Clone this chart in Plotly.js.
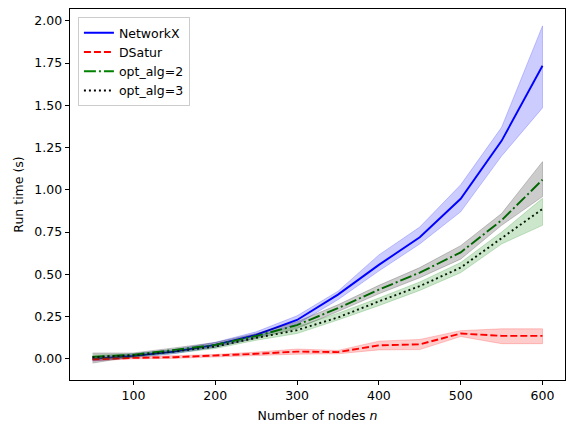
<!DOCTYPE html>
<html>
<head>
<meta charset="utf-8">
<script src="https://cdn.plot.ly/plotly-3.0.1.min.js"></script>
<style>
  html, body { margin: 0; padding: 0; background: #ffffff; }
  #chart { width: 576px; height: 433px; }
</style>
</head>
<body>
<div id="chart"></div>
<script>
// Graph sizes (number of nodes)
const nodes = [50, 100, 150, 200, 250, 300, 350, 400, 450, 500, 550, 600];

// Mean run times (s) and spread bands for each colouring method
const networkxMean  = [0.000, 0.018, 0.043, 0.083, 0.142, 0.230, 0.380, 0.556, 0.720, 0.947, 1.290, 1.734];
const networkxUpper = [0.012, 0.030, 0.055, 0.098, 0.160, 0.255, 0.400, 0.615, 0.780, 1.030, 1.370, 1.970];
const networkxLower = [-0.012, 0.006, 0.031, 0.068, 0.124, 0.205, 0.350, 0.520, 0.680, 0.870, 1.200, 1.485];

const dsaturMean  = [-0.003, 0.006, 0.010, 0.018, 0.030, 0.043, 0.040, 0.080, 0.086, 0.150, 0.136, 0.136];
const dsaturUpper = [0.005, 0.012, 0.017, 0.026, 0.040, 0.058, 0.050, 0.105, 0.115, 0.167, 0.178, 0.178];
const dsaturLower = [-0.012, 0.000, 0.003, 0.010, 0.020, 0.028, 0.030, 0.053, 0.055, 0.132, 0.090, 0.090];

const opt2Mean  = [0.012, 0.024, 0.053, 0.083, 0.135, 0.200, 0.300, 0.410, 0.510, 0.630, 0.820, 1.060];
const opt2Upper = [0.035, 0.035, 0.065, 0.097, 0.150, 0.220, 0.320, 0.435, 0.540, 0.670, 0.860, 1.167];
const opt2Lower = [-0.025, 0.013, 0.041, 0.069, 0.120, 0.180, 0.280, 0.385, 0.480, 0.590, 0.790, 0.960];

const opt3Mean  = [0.010, 0.020, 0.043, 0.073, 0.124, 0.170, 0.245, 0.340, 0.430, 0.540, 0.714, 0.887];
const opt3Upper = [0.022, 0.030, 0.053, 0.085, 0.138, 0.190, 0.270, 0.360, 0.455, 0.570, 0.750, 0.950];
const opt3Lower = [-0.002, 0.010, 0.033, 0.061, 0.110, 0.150, 0.230, 0.315, 0.405, 0.510, 0.680, 0.790];

const xTicks = [100, 200, 300, 400, 500, 600];
const yTicks = [0, 0.25, 0.5, 0.75, 1.0, 1.25, 1.5, 1.75, 2.0];

// Closed polygon for a shaded band between lower and upper curves
function band(lower, upper, rgba) {
  return {
    x: nodes.concat(nodes.slice().reverse()),
    y: upper.concat(lower.slice().reverse()),
    type: 'scatter', mode: 'lines', fill: 'toself',
    fillcolor: rgba, line: { color: rgba, width: 1 },
    hoverinfo: 'skip', showlegend: false
  };
}

function line(name, y, color, dash) {
  return {
    x: nodes, y: y, name: name, type: 'scatter', mode: 'lines',
    line: { color: color, width: 1.9, dash: dash }
  };
}

const traces = [
  line('NetworkX', networkxMean, '#0000ff', 'solid'),
  band(networkxLower, networkxUpper, 'rgba(0,0,255,0.2)'),
  line('DSatur', dsaturMean, '#ff0000', '7px,3px'),
  band(dsaturLower, dsaturUpper, 'rgba(255,0,0,0.2)'),
  line('opt_alg=2', opt2Mean, '#008000', '12px,3px,2px,3px'),
  band(opt2Lower, opt2Upper, 'rgba(0,0,0,0.2)'),
  line('opt_alg=3', opt3Mean, '#000000', '2px,3px'),
  band(opt3Lower, opt3Upper, 'rgba(0,128,0,0.2)')
];

const axisCommon = {
  showgrid: false, zeroline: false,
  showline: true, mirror: true, linecolor: '#000000', linewidth: 1,
  ticks: 'outside', ticklen: 4.4, tickwidth: 1, tickcolor: '#000000',
  tickfont: { family: 'DejaVu Sans', size: 12.5, color: '#000000' }
};

const layout = {
  width: 576, height: 433,
  margin: { l: 70, r: 11, t: 9, b: 53 },
  paper_bgcolor: '#ffffff', plot_bgcolor: '#ffffff',
  font: { family: 'DejaVu Sans', size: 12.5, color: '#000000' },
  xaxis: Object.assign({}, axisCommon, {
    range: [22.5, 627.5], tickmode: 'array', tickvals: xTicks,
    title: { text: 'Number of nodes <i>n</i>', font: { size: 12.5 }, standoff: 8 }
  }),
  yaxis: Object.assign({}, axisCommon, {
    range: [-0.125, 2.07], tickmode: 'array', tickvals: yTicks, tickformat: '.2f',
    title: { text: 'Run time (s)', font: { size: 12.5 }, standoff: 7 }
  }),
  legend: {
    x: 0.016, y: 0.978, xanchor: 'left', yanchor: 'top',
    bgcolor: 'rgba(255,255,255,0.8)', bordercolor: '#cccccc', borderwidth: 1,
    font: { family: 'DejaVu Sans', size: 12.5 }, tracegroupgap: 0
  },
  showlegend: true
};

Plotly.newPlot('chart', traces, layout, { staticPlot: true, displayModeBar: false });
</script>
</body>
</html>
